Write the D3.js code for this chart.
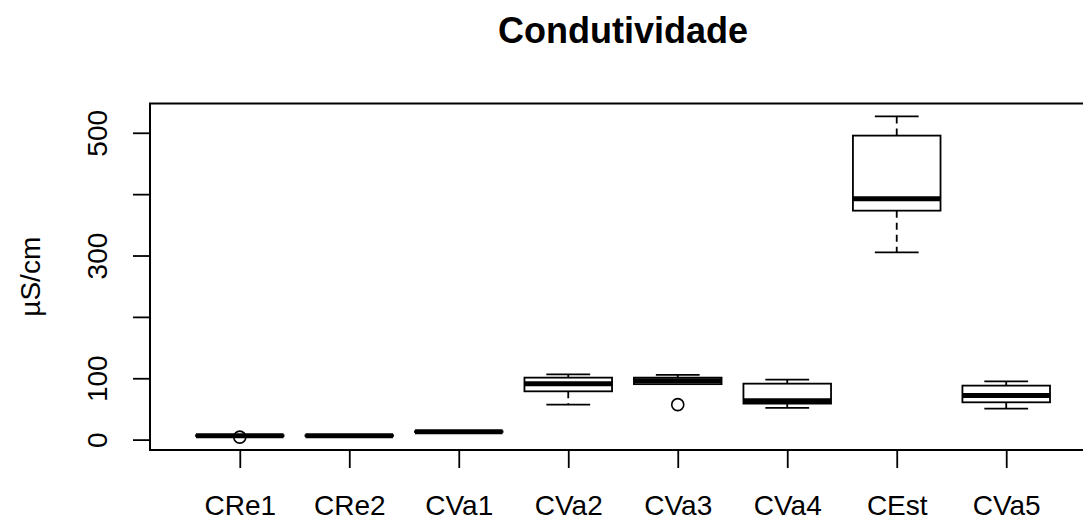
<!DOCTYPE html>
<html>
<head>
<meta charset="utf-8">
<script src="https://cdn.jsdelivr.net/npm/d3@7"></script>
<style>
  body { margin: 0; background: #fff; }
  svg text { font-family: "Liberation Sans", Arial, sans-serif; fill: #000; }
</style>
</head>
<body>
<script>
// Boxplot summary per site (µS/cm)
const categories = ["CRe1", "CRe2", "CVa1", "CVa2", "CVa3", "CVa4", "CEst", "CVa5"];
const lowerWhisker = [5.5, 5.5, 12, 57, 90.4, 51.7, 305.2, 50.5];
const lowerQuartile = [6, 6, 12.5, 78.7, 90.4, 58.7, 373.1, 60.8];
const medians = [6.5, 6.5, 13, 91.2, 96, 63.5, 392.7, 71.7];
const upperQuartile = [7, 7, 13.5, 101, 101, 91.2, 495.4, 88];
const upperWhisker = [7.5, 7.5, 14, 106.4, 105.4, 97.8, 526.8, 95];
const outliers = [[4], [], [], [], [57], [], [], []];

const yTicks = [0, 100, 200, 300, 400, 500];
const yTickLabels = [0, 100, 300, 500];

const title = "Condutividade";
const yLabel = "µS/cm";

const width = 1083, height = 520;
const margin = {top: 103.5, right: -13, bottom: 70, left: 150};
const plotW = width - margin.left - margin.right;
const plotH = height - margin.top - margin.bottom;

const svg = d3.select("body").append("svg")
    .attr("width", width)
    .attr("height", height);

const g = svg.append("g")
    .attr("transform", "translate(" + margin.left + "," + margin.top + ")");

// x: like R, positions 1..n in [0.5, n+0.5] widened by 4%
const x = d3.scalePoint()
    .domain(categories)
    .range([0, plotW])
    .padding(0.82);
const step = x.step();
const boxW = step * 0.8;
const capW = boxW * 0.5;

// y: data range widened by 4% on each side
const allValues = lowerWhisker.concat(upperWhisker, outliers.flat());
const lo = d3.min(allValues), hi = d3.max(allValues);
const pad = (hi - lo) * 0.04;
const y = d3.scaleLinear()
    .domain([lo - pad, hi + pad])
    .range([plotH, 0]);

const lw = 1.8;

// boxes
const boxes = g.selectAll("g.box")
    .data(categories)
    .enter().append("g")
    .attr("class", "box")
    .attr("transform", d => "translate(" + x(d) + ",0)");

// whiskers (dashed)
boxes.append("line")
    .attr("y1", (d, i) => y(upperQuartile[i]))
    .attr("y2", (d, i) => y(upperWhisker[i]))
    .attr("stroke", "#000").attr("stroke-width", lw)
    .attr("stroke-dasharray", "7,5");
boxes.append("line")
    .attr("y1", (d, i) => y(lowerQuartile[i]))
    .attr("y2", (d, i) => y(lowerWhisker[i]))
    .attr("stroke", "#000").attr("stroke-width", lw)
    .attr("stroke-dasharray", "7,5");

// staples
boxes.append("line")
    .attr("x1", -capW / 2).attr("x2", capW / 2)
    .attr("y1", (d, i) => y(upperWhisker[i]))
    .attr("y2", (d, i) => y(upperWhisker[i]))
    .attr("stroke", "#000").attr("stroke-width", lw);
boxes.append("line")
    .attr("x1", -capW / 2).attr("x2", capW / 2)
    .attr("y1", (d, i) => y(lowerWhisker[i]))
    .attr("y2", (d, i) => y(lowerWhisker[i]))
    .attr("stroke", "#000").attr("stroke-width", lw);

// box
boxes.append("rect")
    .attr("x", -boxW / 2)
    .attr("width", boxW)
    .attr("y", (d, i) => y(upperQuartile[i]))
    .attr("height", (d, i) => y(lowerQuartile[i]) - y(upperQuartile[i]))
    .attr("fill", "#fff")
    .attr("stroke", "#000").attr("stroke-width", lw);

// median
boxes.append("line")
    .attr("x1", -boxW / 2).attr("x2", boxW / 2)
    .attr("y1", (d, i) => y(medians[i]))
    .attr("y2", (d, i) => y(medians[i]))
    .attr("stroke", "#000").attr("stroke-width", 5);

// outliers
boxes.selectAll("circle")
    .data((d, i) => outliers[i])
    .enter().append("circle")
    .attr("cy", v => y(v))
    .attr("r", 6)
    .attr("fill", "none")
    .attr("stroke", "#000").attr("stroke-width", 1.6);

// axes
const yAxis = g.append("g")
    .call(d3.axisLeft(y).tickValues(yTicks).tickSize(17)
        .tickFormat(v => yTickLabels.includes(v) ? v : ""));
yAxis.select(".domain").remove();
yAxis.selectAll(".tick line").attr("stroke", "#000").attr("stroke-width", lw);
yAxis.selectAll(".tick text")
    .attr("x", null).attr("dy", null)
    .attr("transform", "translate(-43,0) rotate(-90)")
    .attr("text-anchor", "middle")
    .style("font-size", "28px")
    .style("font-family", "'Liberation Sans', Arial, sans-serif");

const xAxis = g.append("g")
    .attr("transform", "translate(0," + plotH + ")")
    .call(d3.axisBottom(x).tickSize(18).tickSizeOuter(0));
xAxis.select(".domain").remove();
xAxis.selectAll(".tick line").attr("stroke", "#000").attr("stroke-width", lw);
xAxis.selectAll(".tick text")
    .attr("y", 65).attr("dy", null)
    .style("font-size", "28px")
    .style("font-family", "'Liberation Sans', Arial, sans-serif");

// frame
g.append("rect")
    .attr("width", plotW)
    .attr("height", plotH)
    .attr("fill", "none")
    .attr("stroke", "#000")
    .attr("stroke-width", 2);

// labels
svg.append("text")
    .attr("x", margin.left + plotW / 2)
    .attr("y", 43)
    .attr("text-anchor", "middle")
    .style("font-size", "36px")
    .style("font-weight", "bold")
    .text(title);

svg.append("text")
    .attr("transform", "translate(40," + (margin.top + plotH / 2) + ") rotate(-90)")
    .attr("text-anchor", "middle")
    .style("font-size", "28px")
    .text(yLabel);
</script>
</body>
</html>
